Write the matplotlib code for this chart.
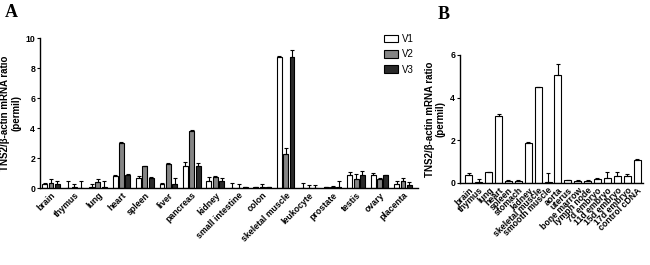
import matplotlib
matplotlib.use("Agg")
import matplotlib.pyplot as plt
import numpy as np

plt.rcParams['font.family'] = ['Liberation Sans', 'DejaVu Sans']

# ---- Panel A data ----
cats_a = ["brain", "thymus", "lung", "heart", "spleen", "liver", "pancreas", "kidney",
          "small intestine", "colon", "skeletal muscle", "leukocyte", "prostate",
          "testis", "ovary", "placenta"]
v1 = [0.24, 0.02, 0.05, 0.78, 0.70, 0.25, 1.50, 0.47, 0.02, 0.05, 8.73, 0.02, 0.05, 0.90, 0.84, 0.25]
v1_err = [0.09, 0.48, 0.25, 0.07, 0.10, 0.10, 0.25, 0.26, 0.31, 0.03, 0.07, 0.31, 0.03, 0.17, 0.16, 0.20]
v2 = [0.33, 0.05, 0.40, 3.00, 1.44, 1.58, 3.80, 0.73, 0.02, 0.05, 2.29, 0.02, 0.10, 0.62, 0.58, 0.45]
v2_err = [0.25, 0.25, 0.22, 0.10, 0.06, 0.07, 0.10, 0.09, 0.23, 0.25, 0.40, 0.20, 0.05, 0.33, 0.09, 0.22]
v3 = [0.24, 0.02, 0.05, 0.85, 0.68, 0.25, 1.50, 0.45, 0.05, 0.05, 8.73, 0.02, 0.05, 0.90, 0.84, 0.18]
v3_err = [0.20, 0.43, 0.45, 0.10, 0.07, 0.45, 0.16, 0.22, 0.05, 0.05, 0.47, 0.20, 0.40, 0.23, 0.06, 0.22]
series_names = ["V1", "V2", "V3"]

# ---- Panel B data ----
cats_b = ["brain", "thymus", "lung", "heart", "spleen", "stomach", "kidney",
          "skeletal muscle", "smooth muscle", "aorta", "uterus", "bone marrow",
          "lymph node", "7d embryo", "11d embryo", "15d embryo", "17d embryo", "control cDNA"]
vb = [0.36, 0.05, 0.50, 3.13, 0.08, 0.10, 1.89, 4.48, 0.05, 5.08, 0.12, 0.08, 0.08, 0.20, 0.25, 0.31, 0.31, 1.09]
vb_err = [0.10, 0.15, 0.03, 0.10, 0.05, 0.03, 0.03, 0.03, 0.40, 0.48, 0.03, 0.05, 0.05, 0.04, 0.28, 0.22, 0.13, 0.04]

fig = plt.figure(figsize=(6.5, 2.65), dpi=100)

ylabel = "TNS2/β-actin mRNA ratio\n(permil)"
tick_fs = 6.3

# Panel A
axA = fig.add_axes([40/650, 1-188/265, 378/650, 150/265])
x = np.arange(len(cats_a))
w = 0.27
cols = ["white", "#858585", "#2a2a2a"]
for i, (vals, errs) in enumerate([(v1, v1_err), (v2, v2_err), (v3, v3_err)]):
    vals = np.array(vals); errs = np.array(errs)
    axA.bar(x + (i-1)*w, vals, width=0.21, color=cols[i], edgecolor="black",
            linewidth=0.8, label=series_names[i],
            yerr=[np.zeros_like(errs), errs], capsize=1.3,
            error_kw=dict(elinewidth=0.8, capthick=0.8, ecolor="black"))
axA.set_xlim(-0.47, len(cats_a) - 1 + 0.64)
axA.set_ylim(0, 10)
axA.set_yticks([0, 2, 4, 6, 8, 10])
axA.set_xticks(x)
axA.set_xticklabels(cats_a, rotation=45, ha="right", rotation_mode="anchor",
                    fontsize=tick_fs, fontweight="bold")
for lab in axA.get_yticklabels():
    lab.set_fontsize(tick_fs); lab.set_fontweight("bold")
axA.set_ylabel(ylabel, fontsize=7, fontweight="bold", labelpad=3, linespacing=1.1)
axA.spines["top"].set_visible(False)
axA.spines["right"].set_visible(False)
axA.tick_params(axis="both", length=2, width=0.8, pad=1.5)
axA.tick_params(axis="x", length=0, pad=2)
for s in ["left", "bottom"]:
    axA.spines[s].set_linewidth(1.0)
axA.legend(loc="upper left", bbox_to_anchor=(380/650, 1-30/265), bbox_transform=fig.transFigure,
           frameon=False, fontsize=7, handlelength=1.4, handleheight=0.8,
           labelspacing=0.55, handletextpad=0.5, borderaxespad=0)

# Panel B
axB = fig.add_axes([460/650, 1-183/265, 183/650, 128/265])
xb = np.arange(len(cats_b))
vb_a = np.array(vb); vb_e = np.array(vb_err)
axB.bar(xb, vb_a, width=0.7, color="white", edgecolor="black", linewidth=0.8,
        yerr=[np.zeros_like(vb_e), vb_e], capsize=1.5,
        error_kw=dict(elinewidth=0.8, capthick=0.8, ecolor="black"))
axB.set_xlim(-0.9, len(cats_b) - 1 + 0.6)
axB.set_ylim(0, 6)
axB.set_yticks([0, 2, 4, 6])
axB.set_xticks(xb)
axB.set_xticklabels(cats_b, rotation=45, ha="right", rotation_mode="anchor",
                    fontsize=tick_fs, fontweight="bold")
for lab in axB.get_yticklabels():
    lab.set_fontsize(tick_fs); lab.set_fontweight("bold")
axB.set_ylabel(ylabel, fontsize=7, fontweight="bold", labelpad=3, linespacing=1.1)
axB.spines["top"].set_visible(False)
axB.spines["right"].set_visible(False)
axB.tick_params(axis="both", length=2, width=0.8, pad=1.5)
axB.tick_params(axis="x", length=0, pad=2)
for s in ["left", "bottom"]:
    axB.spines[s].set_linewidth(1.0)

fig.text(5/650, 1-4/265, "A", fontsize=13, fontweight="bold", family=["Liberation Serif"],
         va="top", ha="left")
fig.text(438/650, 1-6/265, "B", fontsize=13, fontweight="bold", family=["Liberation Serif"],
         va="top", ha="left")

fig.savefig("out.png", dpi=100)
